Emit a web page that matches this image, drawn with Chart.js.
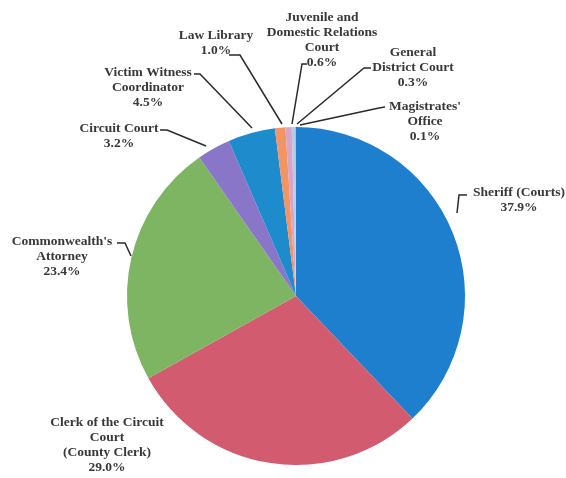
<!DOCTYPE html>
<html lang="en">
<head>
  <meta charset="UTF-8" />
  <title>Courts Expenditure Share</title>
  <script src="https://cdn.jsdelivr.net/npm/chart.js"></script>
  <style>
    body { margin: 0; background: #fff; }
    .chart-box { position: relative; width: 566px; height: 478px; }
  </style>
</head>
<body>
  <div class="chart-box">
    <canvas id="pieChart"></canvas>
  </div>

  <script>
    // Slice labels (multi-line) and their percentages, clockwise from 12 o'clock
    const labels = [
      ["Sheriff (Courts)"],
      ["Clerk of the Circuit", "Court", "(County Clerk)"],
      ["Commonwealth's", "Attorney"],
      ["Circuit Court"],
      ["Victim Witness", "Coordinator"],
      ["Law Library"],
      ["Juvenile and", "Domestic Relations", "Court"],
      ["General", "District Court"],
      ["Magistrates'", "Office"]
    ];
    const shares = [37.9, 29.0, 23.4, 3.2, 4.5, 1.0, 0.6, 0.3, 0.1];
    const colors = ["#1f7fcf", "#d35b6f", "#7db562", "#8a76c8", "#1d8bcc", "#f29464", "#d7a6c6", "#b9c9e9", "#9fc3e8"];

    // Where each label sits (centre of first line) and how its leader line runs
    const labelBoxes = [
      { x: 519, y: 193, line: [[467, 195], [459, 195], [457, 213]] },
      { x: 107, y: 423, line: null },
      { x: 62, y: 242, line: [[117, 243], [125, 243], [131, 256]] },
      { x: 119, y: 129, line: [[160, 130], [167, 130], [206, 146]] },
      { x: 148, y: 73, line: [[194, 74], [200, 74], [252, 128]] },
      { x: 216, y: 36, line: [[229, 55], [240, 55], [282, 124]] },
      { x: 322, y: 18, line: [[307, 64], [302, 64], [292, 124]] },
      { x: 413, y: 53, line: [[371, 68], [364, 68], [297, 124]] },
      { x: 425, y: 107, line: [[385, 107], [379, 108], [300, 125]] }
    ];

    const outsideLabels = {
      id: "outsideLabels",
      afterDatasetsDraw(chart) {
        const ctx = chart.ctx;
        ctx.save();
        ctx.fillStyle = "#383838";
        ctx.strokeStyle = "#2a2a2a";
        ctx.lineWidth = 1.5;
        ctx.font = "bold 13.5px 'Liberation Serif', 'DejaVu Serif', serif";
        ctx.textAlign = "center";
        ctx.textBaseline = "middle";
        labelBoxes.forEach((box, i) => {
          if (box.line) {
            ctx.beginPath();
            box.line.forEach((p, k) => k ? ctx.lineTo(p[0], p[1]) : ctx.moveTo(p[0], p[1]));
            ctx.stroke();
          }
          const lines = labels[i].concat([shares[i].toFixed(1) + "%"]);
          lines.forEach((t, k) => ctx.fillText(t, box.x, box.y + k * 15));
        });
        ctx.restore();
      }
    };

    new Chart(document.getElementById("pieChart"), {
      type: "pie",
      data: {
        labels: labels.map(l => l.join(" ")),
        datasets: [{
          data: shares,
          backgroundColor: colors,
          borderWidth: 0
        }]
      },
      options: {
        responsive: true,
        maintainAspectRatio: false,
        animation: false,
        layout: { padding: { top: 127, bottom: 13, left: 127, right: 101 } },
        plugins: {
          legend: { display: false },
          tooltip: { enabled: false }
        }
      },
      plugins: [outsideLabels]
    });
  </script>
</body>
</html>
